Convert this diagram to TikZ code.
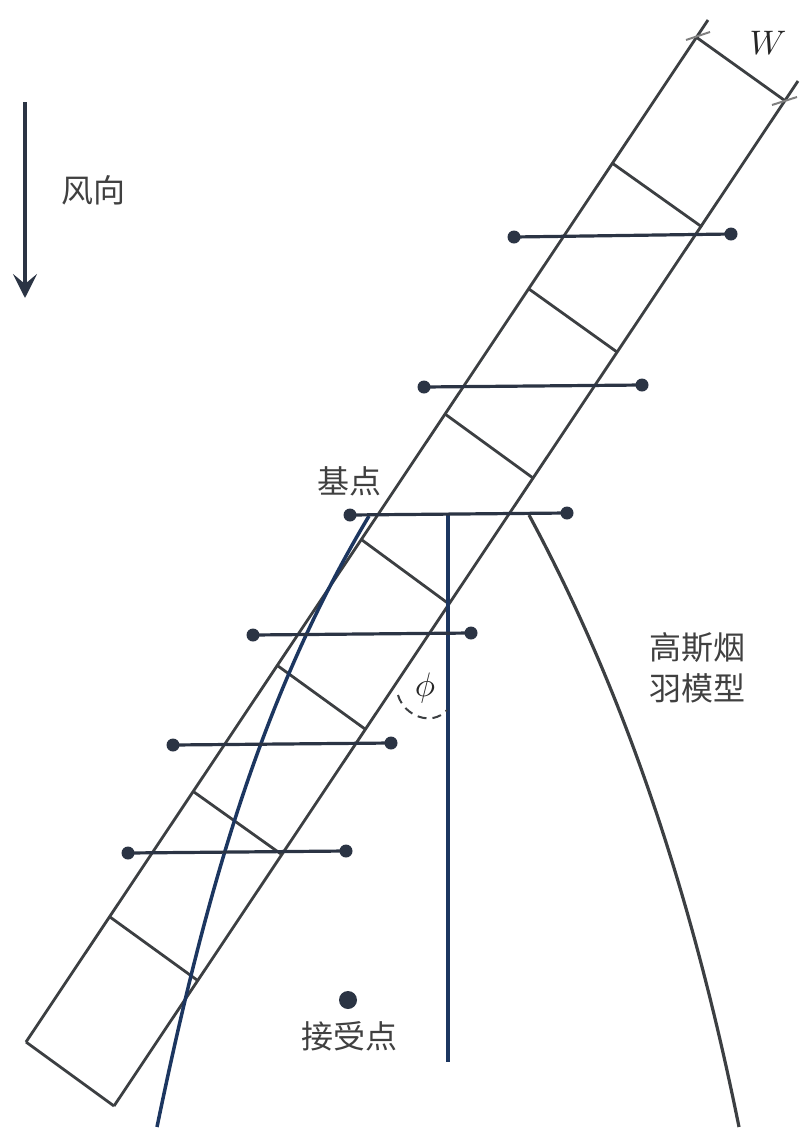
\documentclass[tikz,border=0pt]{standalone}
\usepackage{fontspec}
\usepackage{amsmath}
\usepackage{xcolor}
\setmainfont{Noto Sans CJK SC}
\usetikzlibrary{arrows.meta}
\definecolor{linegrey}{HTML}{3C3F42}
\definecolor{plumeblue}{HTML}{1C3660}
\definecolor{dotdark}{HTML}{2B3444}
\tikzset{
    beltline/.style={draw=linegrey,line width=2.8pt},
    barline/.style={draw=dotdark,line width=3.2pt},
    curveline/.style={draw=linegrey,line width=3.2pt},
    blueline/.style={draw=plumeblue,line width=3.5pt},
    tickline/.style={draw=gray,line width=2pt},
    enddot/.style={circle,fill=dotdark,minimum size=13,inner sep=0pt,outer sep=0pt},
    textlabel/.style={font=\fontsize{32}{41}\selectfont,text=black!75,inner sep=0pt,align=center},
    mathlabel/.style={scale=3.4,text=black!85,inner sep=0pt},
    directed/.style={arrows={-Stealth[length=24pt,width=24pt,inset=10pt]},draw=dotdark,line width=4pt},
    }
\begin{document}
\begin{tikzpicture}[x=1pt,y=-1pt]
	\useasboundingbox (0,0) rectangle (810,1136);

	% wind direction
	\coordinate (w1) at (25,102);
	\coordinate (w2) at (25,298);
	\draw[directed] (w1) to (w2);
	\node[textlabel] (wind) at (93,190) {风向};

	% long edges of the strip
	\coordinate (bl) at (26,1042);
	\coordinate (br) at (114,1106);
	\coordinate (tl) at (708,20);
	\coordinate (tr) at (798,81);
	\coordinate (cl) at (696,37);
	\coordinate (cr) at (784,100);
	\draw[beltline] (tl) to (bl);
	\draw[beltline] (bl) to (br);
	\draw[beltline] (br) to (tr);
	\draw[beltline] (cl) to (cr);

	% width ticks
	\coordinate (t1) at (686,40);
	\coordinate (t2) at (710,32);
	\coordinate (t3) at (772,105);
	\coordinate (t4) at (797,97);
	\draw[tickline] (t1) to (t2);
	\draw[tickline] (t3) to (t4);
	\node[mathlabel] (W) at (768,43) {$W$};

	% cross lines of the strip
	\coordinate (r1a) at (612,163);
	\coordinate (r1b) at (702,227);
	\coordinate (r2a) at (529,289);
	\coordinate (r2b) at (617,352);
	\coordinate (r3a) at (445,414);
	\coordinate (r3b) at (533,478);
	\coordinate (r4a) at (362,540);
	\coordinate (r4b) at (449,604);
	\coordinate (r5a) at (278,666);
	\coordinate (r5b) at (365,729);
	\coordinate (r6a) at (194,792);
	\coordinate (r6b) at (281,854);
	\coordinate (r7a) at (110,917);
	\coordinate (r7b) at (197,980);
	\draw[beltline] (r1a) to (r1b);
	\draw[beltline] (r2a) to (r2b);
	\draw[beltline] (r3a) to (r3b);
	\draw[beltline] (r4a) to (r4b);
	\draw[beltline] (r5a) to (r5b);
	\draw[beltline] (r6a) to (r6b);
	\draw[beltline] (r7a) to (r7b);

	% plume curves
	\coordinate (c1) at (369,516);
	\coordinate (c2) at (157,1127);
	\draw[blueline] (c1) .. controls (265,690) and (208,880) .. (c2);
	\coordinate (g1) at (529,515);
	\coordinate (g2) at (739,1127);
	\draw[curveline] (g1) .. controls (610,665) and (685,860) .. (g2);
	\coordinate (v1) at (448,515);
	\coordinate (v2) at (448,1062);
	\draw[blueline] (v1) to (v2);

	% horizontal bars
	\node[enddot] (b1a) at (514,237) {};
	\node[enddot] (b1b) at (731,234) {};
	\node[enddot] (b2a) at (424,387) {};
	\node[enddot] (b2b) at (642,385) {};
	\node[enddot] (b3a) at (350,515) {};
	\node[enddot] (b3b) at (567,513) {};
	\node[enddot] (b4a) at (253,635) {};
	\node[enddot] (b4b) at (471,633) {};
	\node[enddot] (b5a) at (173,745) {};
	\node[enddot] (b5b) at (391,743) {};
	\node[enddot] (b6a) at (128,853) {};
	\node[enddot] (b6b) at (346,851) {};
	\draw[barline] (b1a.center) to (b1b.center);
	\draw[barline] (b2a.center) to (b2b.center);
	\draw[barline] (b3a.center) to (b3b.center);
	\draw[barline] (b4a.center) to (b4b.center);
	\draw[barline] (b5a.center) to (b5b.center);
	\draw[barline] (b6a.center) to (b6b.center);

	% angle
	\coordinate (p1) at (398,695);
	\coordinate (p2) at (447,710);
	\draw[draw=linegrey,line width=2pt,dash pattern=on 9pt off 6pt] (p1) .. controls (404,716) and (432,727) .. (p2);
	\node[mathlabel] (phi) at (425,688) {$\phi$};

	% labels
	\node[textlabel] (base) at (349,481) {基点};
	\node[textlabel] (plume) at (697,668) {高斯烟\\羽模型};
	\node[enddot,minimum size=18] (recv) at (348,1000) {};
	\node[textlabel] (recvlabel) at (349,1036) {接受点};
\end{tikzpicture}
\end{document}
